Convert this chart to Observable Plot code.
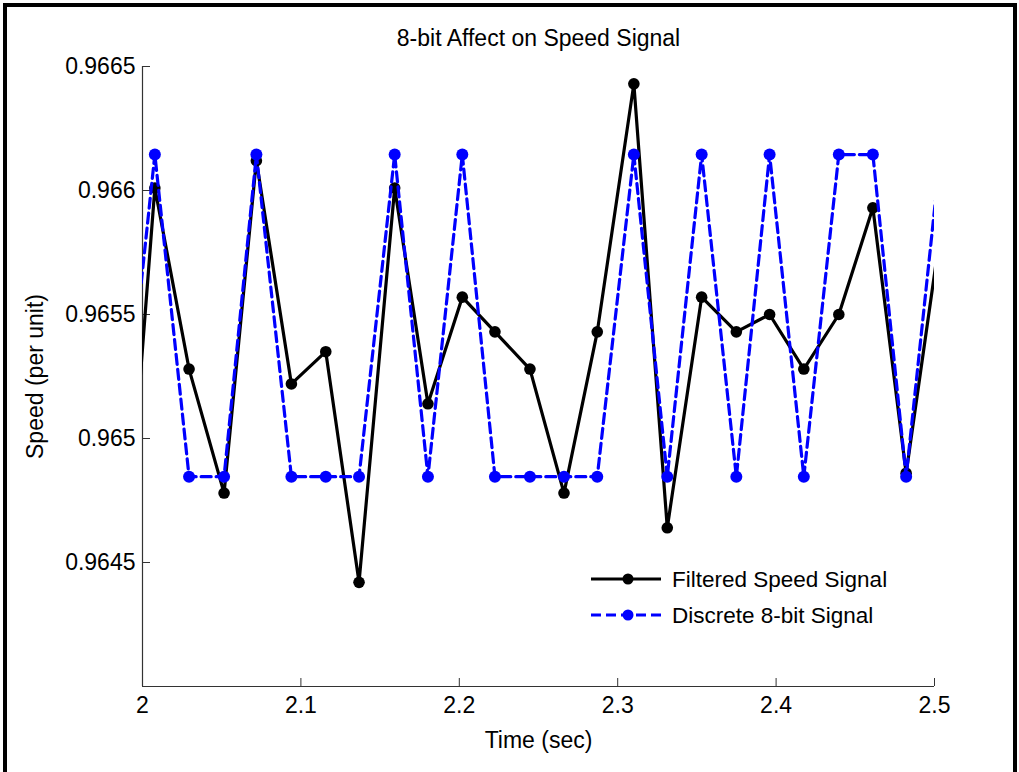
<!DOCTYPE html>
<html>
<head>
<meta charset="utf-8">
<script src="https://cdn.jsdelivr.net/npm/d3@7"></script>
<script src="https://cdn.jsdelivr.net/npm/@observablehq/plot@0.6"></script>
<style>
  html, body { margin: 0; padding: 0; background: #fff; }
  #wrap { position: relative; width: 1019px; height: 772px; overflow: hidden; }
  #frame { position: absolute; left: 3px; top: 3px; width: 1014px; height: 790px;
           box-sizing: border-box; border: 4px solid #000; border-bottom: none; pointer-events: none; }
  #legend { position: absolute; left: 0; top: 0; }
</style>
</head>
<body>
<div id="wrap"><div id="frame"></div></div>
<script>
// ---- data ----
const title = "8-bit Affect on Speed Signal";
const xLabel = "Time (sec)";
const yLabel = "Speed (per unit)";
const seriesNames = ["Filtered Speed Signal", "Discrete 8-bit Signal"];

const time = [1.9862, 2.0078, 2.0294, 2.0515, 2.0719, 2.0940, 2.1157, 2.1367, 2.1592, 2.1802,
              2.2019, 2.2225, 2.2446, 2.2661, 2.2871, 2.3102, 2.3313, 2.3530, 2.3749, 2.3959,
              2.4175, 2.4396, 2.4611, 2.4821, 2.5037];
const filtered = [0.96422, 0.96601, 0.96528, 0.96478, 0.96612, 0.96522, 0.96535, 0.96442, 0.96601, 0.96514,
                  0.96557, 0.96543, 0.96528, 0.96478, 0.96543, 0.96643, 0.96464, 0.96557, 0.96543, 0.96550,
                  0.96528, 0.96550, 0.96593, 0.96486, 0.96583];
const discrete = [0.964846, 0.966145, 0.964846, 0.964846, 0.966145, 0.964846, 0.964846, 0.964846, 0.966145, 0.964846,
                  0.966145, 0.964846, 0.964846, 0.964846, 0.964846, 0.966145, 0.964846, 0.966145, 0.964846, 0.966145,
                  0.964846, 0.966145, 0.966145, 0.964846, 0.966145];
const xTicks = [2, 2.1, 2.2, 2.3, 2.4, 2.5];
const yTicks = [0.9645, 0.965, 0.9655, 0.966, 0.9665];
const xDomain = [2, 2.5];
const yDomain = [0.964, 0.9665];

// ---- build ----
const filteredData = time.map((t, i) => ({t, v: filtered[i]}));
const discreteData = time.map((t, i) => ({t, v: discrete[i]}));
const inX = d => d.t >= xDomain[0] && d.t <= xDomain[1];

const FONT = "'Liberation Sans', Arial, Helvetica, sans-serif";
const axisColor = "#333";

const chart = Plot.plot({
  width: 1019,
  height: 772,
  marginLeft: 142,
  marginRight: 85,
  marginTop: 66,
  marginBottom: 86,
  style: { fontFamily: FONT, fontSize: "23px", color: "#000", background: "transparent", overflow: "visible" },
  x: { domain: xDomain, ticks: xTicks },
  y: { domain: yDomain, ticks: yTicks },
  marks: [
    // axis lines
    Plot.ruleX([xDomain[0]], { stroke: axisColor, strokeWidth: 1.2 }),
    Plot.ruleY([yDomain[0]], { stroke: axisColor, strokeWidth: 1.2 }),
    Plot.axisX(xTicks, { tickSize: -8, tickPadding: 18, stroke: axisColor, fill: "#000",
                         tickFormat: d => String(d), label: null }),
    Plot.axisY(yTicks, { tickSize: -8, tickPadding: 15, stroke: axisColor, fill: "#000",
                         tickFormat: d => String(+d.toFixed(4)), label: null }),
    // series
    Plot.line(filteredData, { x: "t", y: "v", stroke: "#000", strokeWidth: 3.2, clip: true }),
    Plot.dot(filteredData.filter(inX), { x: "t", y: "v", r: 5.8, fill: "#000", stroke: "none" }),
    Plot.line(discreteData, { x: "t", y: "v", stroke: "#0000ff", strokeWidth: 3.2,
                              strokeDasharray: "10,5", clip: true }),
    Plot.dot(discreteData.filter(inX), { x: "t", y: "v", r: 6, fill: "#0000ff", stroke: "none" }),
    // texts
    Plot.text([title], { frameAnchor: "top", dy: -28, lineAnchor: "middle", textAnchor: "middle",
                         fontSize: 23, fill: "#000" }),
    Plot.text([xLabel], { frameAnchor: "bottom", dy: 54, lineAnchor: "middle", textAnchor: "middle",
                          fontSize: 23, fill: "#000" }),
    Plot.text([yLabel], { frameAnchor: "left", dx: -107, rotate: -90, lineAnchor: "middle",
                          textAnchor: "middle", fontSize: 23, fill: "#000" })
  ]
});
chart.style.position = "absolute";
chart.style.left = "0px";
chart.style.top = "0px";
const wrap = document.getElementById("wrap");
wrap.insertBefore(chart, wrap.firstChild);

// ---- legend (overlay) ----
const legendItems = [
  { name: seriesNames[0], color: "#000", dash: null, y: 579 },
  { name: seriesNames[1], color: "#0000ff", dash: "10,5", y: 615 }
];
const lg = d3.select(wrap).append("svg").attr("id", "legend")
  .attr("width", 1019).attr("height", 772);
const items = lg.selectAll("g").data(legendItems).join("g")
  .attr("transform", d => `translate(0,${d.y})`);
items.append("line").attr("x1", 591).attr("x2", 661).attr("y1", 0).attr("y2", 0)
  .attr("stroke", d => d.color).attr("stroke-width", 3.2)
  .attr("stroke-dasharray", d => d.dash);
items.append("circle").attr("cx", 628).attr("cy", 0).attr("r", 5.5).attr("fill", d => d.color);
items.append("text").attr("x", 672).attr("y", 0).attr("dy", "0.35em")
  .attr("font-family", FONT).attr("font-size", 22.5).attr("fill", "#000")
  .text(d => d.name);
</script>
</body>
</html>
